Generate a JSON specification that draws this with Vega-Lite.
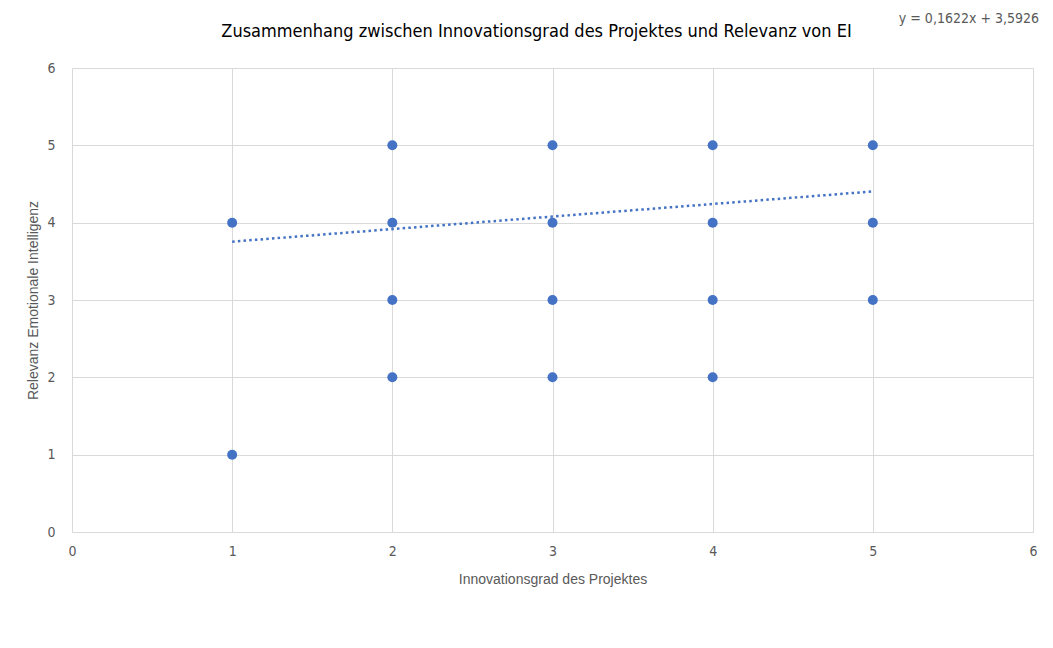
{
  "$schema": "https://vega.github.io/schema/vega-lite/v6.json",
  "autosize": {"type": "none"},
  "width": 961,
  "height": 464,
  "padding": {"left": 72, "top": 68, "right": 20, "bottom": 116},
  "background": "white",
  "config": {
    "view": {"stroke": null},
    "font": "DejaVu Sans Condensed",
    "axis": {"gridColor": "#d9d9d9", "gridWidth": 1, "labelColor": "#595959", "titleColor": "#595959", "labelFont": "DejaVu Sans Condensed", "titleFont": "Liberation Sans", "titleFontWeight": "normal", "labelFlush": false}
  },
  "title": {
    "text": "Zusammenhang zwischen Innovationsgrad des Projektes und Relevanz von EI",
    "font": "DejaVu Sans Condensed",
    "fontSize": 18,
    "fontWeight": "normal",
    "color": "#000000",
    "anchor": "middle",
    "frame": "group",
    "dx": -16,
    "offset": -29
  },
  "datasets": {
    "points": [
      {"innovation": 1, "relevanz": 4},
      {"innovation": 1, "relevanz": 1},
      {"innovation": 2, "relevanz": 5},
      {"innovation": 2, "relevanz": 4},
      {"innovation": 2, "relevanz": 3},
      {"innovation": 2, "relevanz": 2},
      {"innovation": 3, "relevanz": 5},
      {"innovation": 3, "relevanz": 4},
      {"innovation": 3, "relevanz": 3},
      {"innovation": 3, "relevanz": 2},
      {"innovation": 4, "relevanz": 5},
      {"innovation": 4, "relevanz": 4},
      {"innovation": 4, "relevanz": 3},
      {"innovation": 4, "relevanz": 2},
      {"innovation": 5, "relevanz": 5},
      {"innovation": 5, "relevanz": 4},
      {"innovation": 5, "relevanz": 3}
    ],
    "trend": [
      {"innovation": 1, "relevanz": 3.7548},
      {"innovation": 5, "relevanz": 4.4036}
    ],
    "equation": [
      {"innovation": 5.6, "relevanz": 6.64, "label": "y = 0,1622x + 3,5926"}
    ]
  },
  "encoding": {
    "x": {
      "field": "innovation", "type": "quantitative",
      "scale": {"domain": [0, 6], "nice": false},
      "axis": {"title": "Innovationsgrad des Projektes", "values": [0,1,2,3,4,5,6], "labelOverlap": false, "format": "d", "ticks": false, "domain": true, "domainColor": "#d9d9d9", "labelFontSize": 14, "labelPadding": 12, "titleFontSize": 14, "titlePadding": 14}
    },
    "y": {
      "field": "relevanz", "type": "quantitative",
      "scale": {"domain": [0, 6], "nice": false},
      "axis": {"title": "Relevanz Emotionale Intelligenz", "values": [0,1,2,3,4,5,6], "labelOverlap": false, "format": "d", "ticks": false, "domain": false, "labelFontSize": 14, "labelPadding": 17, "titleFontSize": 14, "titlePadding": 6}
    }
  },
  "layer": [
    {
      "data": {"name": "points"},
      "mark": {"type": "circle", "size": 100, "color": "#4472C4", "opacity": 1}
    },
    {
      "data": {"name": "trend"},
      "mark": {"type": "line", "color": "#4472C4", "strokeWidth": 2.5, "strokeDash": [2.5, 3.2]}
    },
    {
      "data": {"name": "equation"},
      "mark": {"type": "text", "clip": false, "fontSize": 14, "color": "#595959", "font": "DejaVu Sans Condensed", "align": "center", "baseline": "middle"},
      "encoding": {
        "text": {"field": "label"}
      }
    }
  ]
}
